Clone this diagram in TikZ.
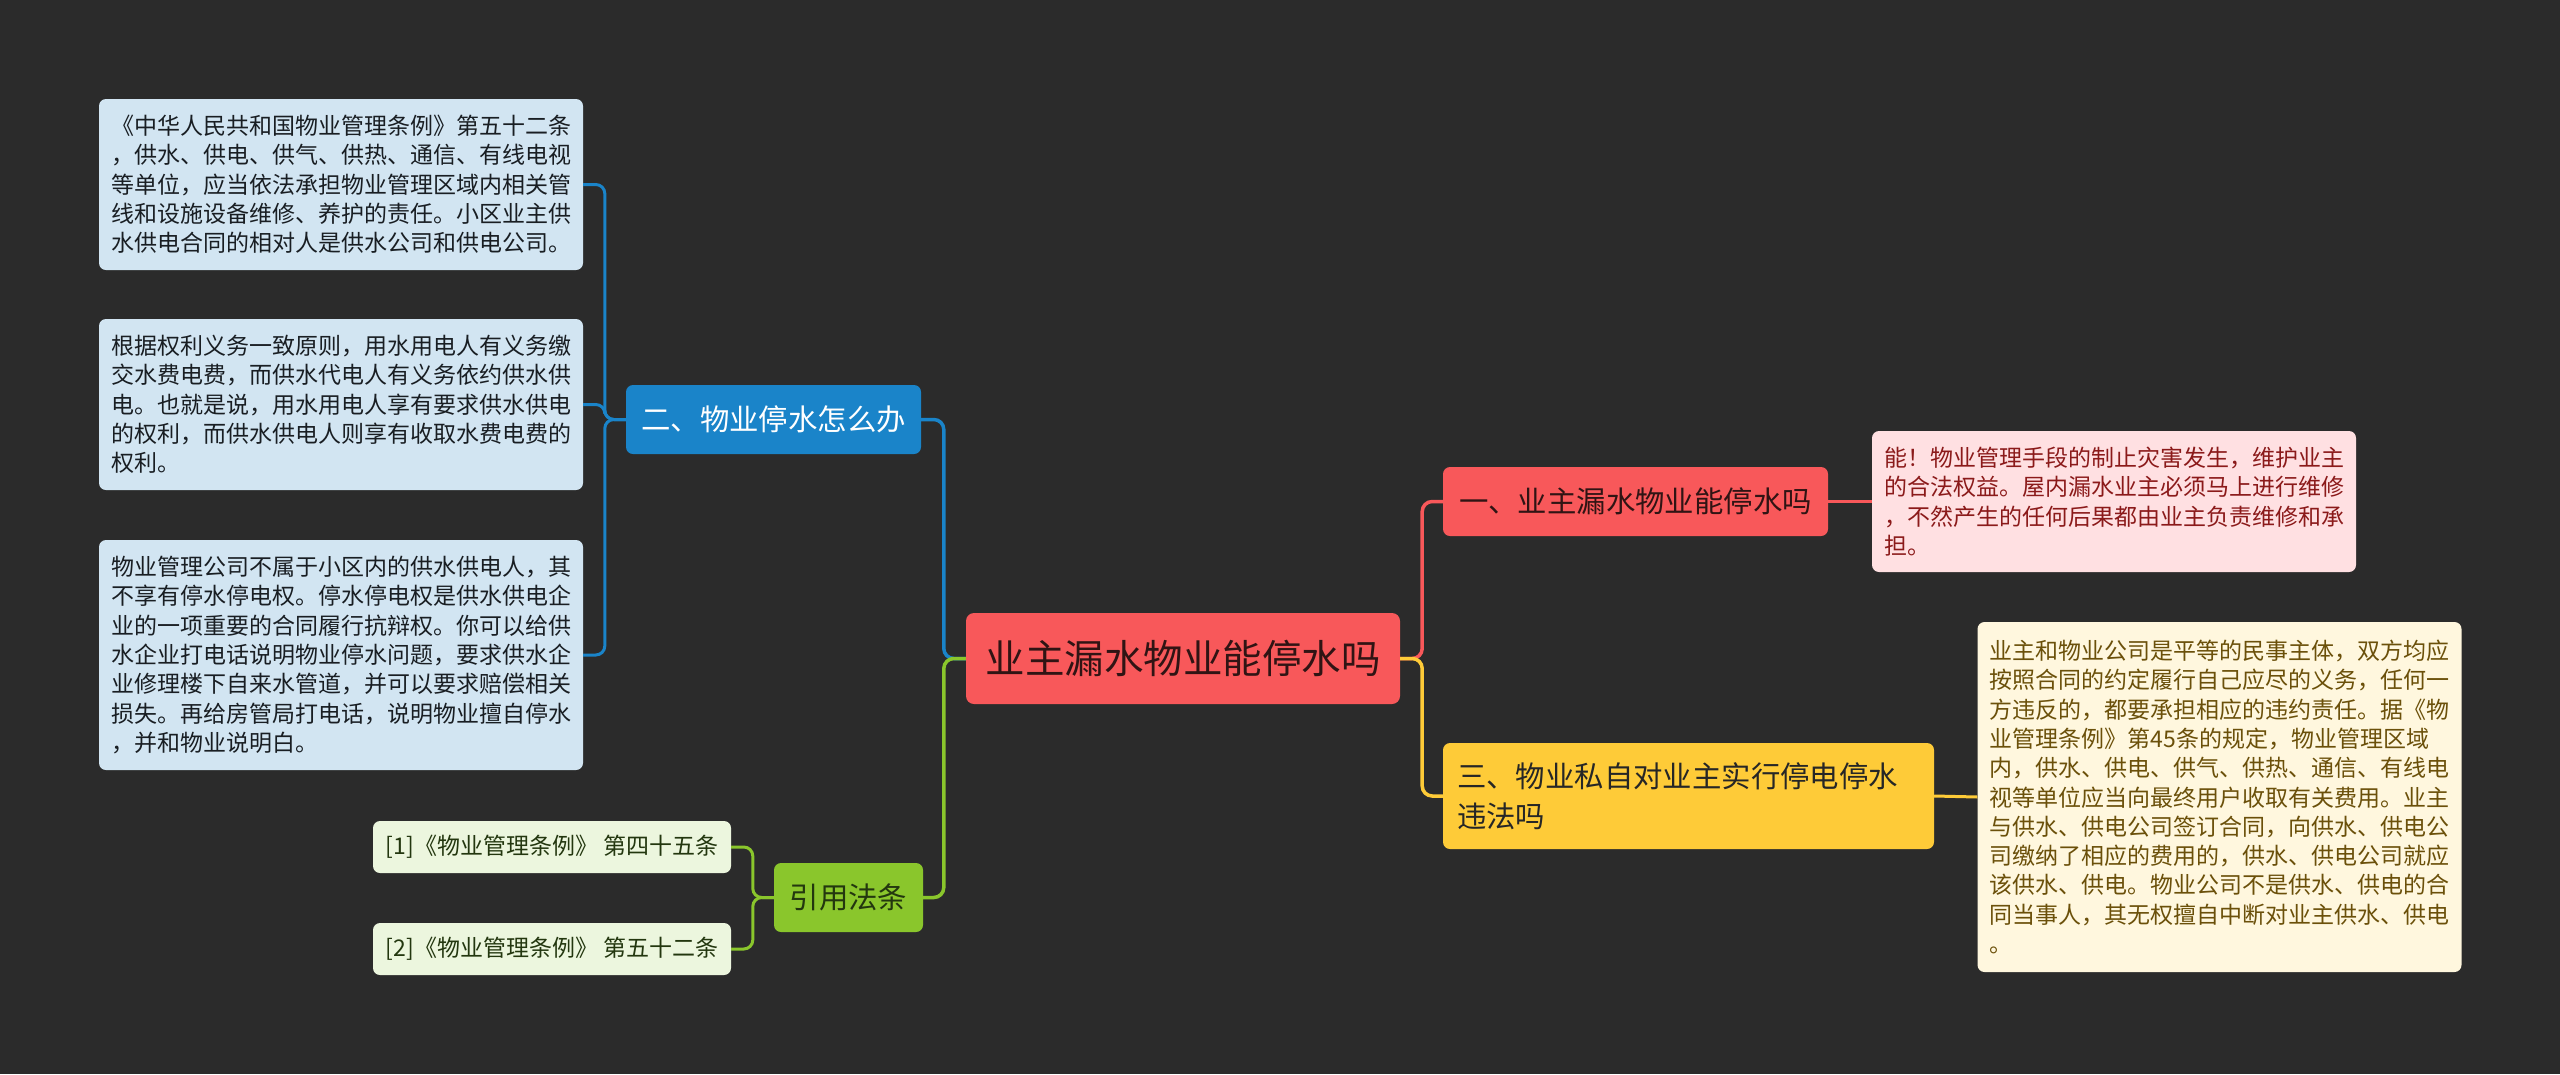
\documentclass[tikz,border=0pt]{standalone}
\usepackage{fontspec}
\setmainfont{Noto Sans CJK SC}
\usetikzlibrary{positioning}
\definecolor{bgdark}{RGB}{43,43,43}
\definecolor{rootred}{RGB}{248,88,90}
\definecolor{roottext}{RGB}{48,20,20}
\definecolor{branchblue}{RGB}{26,132,201}
\definecolor{branchgreen}{RGB}{138,198,44}
\definecolor{branchyellow}{RGB}{254,203,56}
\definecolor{leafblue}{RGB}{210,229,242}
\definecolor{leafpink}{RGB}{255,224,226}
\definecolor{leafyellow}{RGB}{255,247,222}
\definecolor{leafgreen}{RGB}{236,246,222}
\definecolor{pinktext}{RGB}{139,26,26}
\definecolor{yellowtext}{RGB}{107,80,10}
\definecolor{greentext}{RGB}{35,55,15}
\definecolor{bluetext}{RGB}{25,30,35}
\tikzset{
  rootbox/.style={
    rectangle,
    rounded corners=8pt,
    fill=rootred,
    text=roottext,
    minimum width=434pt,
    minimum height=91pt,
    inner sep=0pt,
    font=\fontsize{39.5}{46}\selectfont
  },
  branch/.style={
    rectangle,
    rounded corners=7pt,
    align=left,
    inner xsep=14pt,
    inner ysep=0pt,
    minimum height=69pt,
    font=\fontsize{29.4}{37}\selectfont
  },
  leaf/.style={
    rectangle,
    rounded corners=7pt,
    align=left,
    text width=460pt,
    inner xsep=12pt,
    inner ysep=0pt,
    font=\fontsize{23}{29.3}\selectfont
  },
  refleaf/.style={
    leaf,
    text width=,
    align=center,
    minimum width=358pt,
    minimum height=52pt,
    font=\fontsize{23}{28}\selectfont
  },
  link/.style={
    line width=3.5pt,
    rounded corners=10pt
  },
  sublink/.style={
    line width=3pt,
    rounded corners=9pt
  }
}

\begin{document}
\begin{tikzpicture}[x=1pt,y=-1pt]
  \fill[bgdark] (0,0) rectangle (2560,1074);

  \node[rootbox] (root) at (1183,658.5) {业主漏水物业能停水吗};
  \node[branch, fill=branchblue, text=white, minimum width=295pt] (howto) at (773.5,419.5) {二、物业停水怎么办};
  \node[branch, fill=branchgreen, text=greentext, minimum width=149pt] (cite) at (848.5,897.5) {引用法条};
  \node[branch, fill=rootred, text=roottext, minimum width=385pt] (canstop) at (1635.5,501.5) {一、业主漏水物业能停水吗};
  \node[branch, fill=branchyellow, text=black!85, text width=463pt, minimum height=106pt, font=\fontsize{29.4}{40}\selectfont] (illegal) at (1688.5,796) {三、物业私自对业主实行停电停水\\违法吗};

  \node[leaf, fill=leafblue, text=bluetext, minimum height=171pt] (rule) at (341,184.5) {《中华人民共和国物业管理条例》第五十二条\\，供水、供电、供气、供热、通信、有线电视\\等单位，应当依法承担物业管理区域内相关管\\线和设施设备维修、养护的责任。小区业主供\\水供电合同的相对人是供水公司和供电公司。};
  \node[leaf, fill=leafblue, text=bluetext, minimum height=171pt] (rights) at (341,404.5) {根据权利义务一致原则，用水用电人有义务缴\\交水费电费，而供水代电人有义务依约供水供\\电。也就是说，用水用电人享有要求供水供电\\的权利，而供水供电人则享有收取水费电费的\\权利。};
  \node[leaf, fill=leafblue, text=bluetext, minimum height=230pt] (steps) at (341,655) {物业管理公司不属于小区内的供水供电人，其\\不享有停水停电权。停水停电权是供水供电企\\业的一项重要的合同履行抗辩权。你可以给供\\水企业打电话说明物业停水问题，要求供水企\\业修理楼下自来水管道，并可以要求赔偿相关\\损失。再给房管局打电话，说明物业擅自停水\\，并和物业说明白。};

  \node[refleaf, fill=leafgreen, text=greentext] (refone) at (552,847) {[1]《物业管理条例》 第四十五条};
  \node[refleaf, fill=leafgreen, text=greentext] (reftwo) at (552,949) {[2]《物业管理条例》 第五十二条};

  \node[leaf, fill=leafpink, text=pinktext, minimum height=141pt] (answer) at (2114,501.5) {能！物业管理手段的制止灾害发生，维护业主\\的合法权益。屋内漏水业主必须马上进行维修\\，不然产生的任何后果都由业主负责维修和承\\担。};
  \node[leaf, fill=leafyellow, text=yellowtext, minimum height=350pt] (contract) at (2219.5,797) {业主和物业公司是平等的民事主体，双方均应\\按照合同的约定履行自己应尽的义务，任何一\\方违反的，都要承担相应的违约责任。据《物\\业管理条例》第45条的规定，物业管理区域\\内，供水、供电、供气、供热、通信、有线电\\视等单位应当向最终用户收取有关费用。业主\\与供水、供电公司签订合同，向供水、供电公\\司缴纳了相应的费用的，供水、供电公司就应\\该供水、供电。物业公司不是供水、供电的合\\同当事人，其无权擅自中断对业主供水、供电\\。};

  \draw[link, draw=branchblue] (root.west) -- ++(-22,0) |- (howto.east);
  \draw[link, draw=branchgreen] (root.west) -- ++(-22,0) |- (cite.east);
  \draw[link, draw=rootred] (root.east) -- ++(22,0) |- (canstop.west);
  \draw[link, draw=branchyellow] (root.east) -- ++(22,0) |- (illegal.west);

  \draw[sublink, draw=branchblue] (howto.west) -- ++(-21,0) |- (rule.east);
  \draw[sublink, draw=branchblue] (howto.west) -- ++(-21,0) |- (rights.east);
  \draw[sublink, draw=branchblue] (howto.west) -- ++(-21,0) |- (steps.east);
  \draw[sublink, draw=branchgreen] (cite.west) -- ++(-21,0) |- (refone.east);
  \draw[sublink, draw=branchgreen] (cite.west) -- ++(-21,0) |- (reftwo.east);
  \draw[sublink, draw=rootred] (canstop.east) -- (answer.west);
  \draw[sublink, draw=branchyellow] (illegal.east) -- (contract.west);
\end{tikzpicture}
\end{document}
